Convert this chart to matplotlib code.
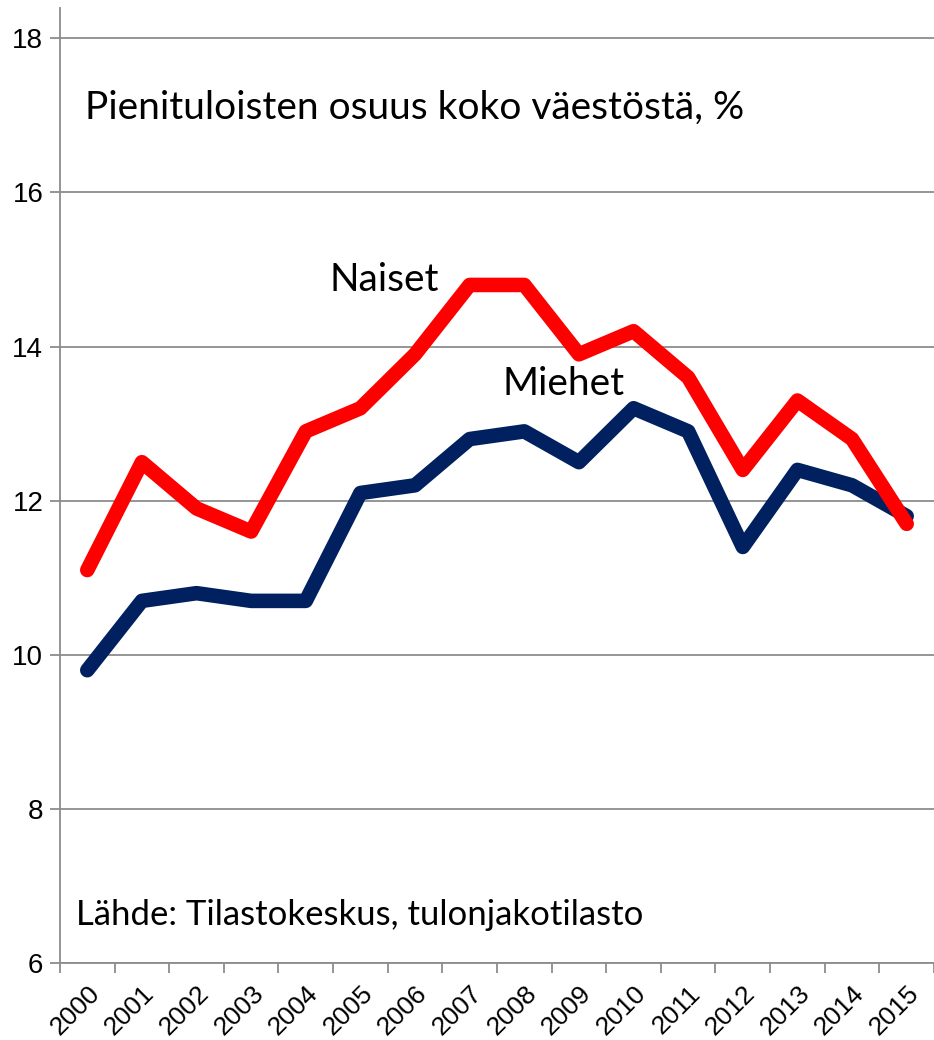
import numpy as np
import matplotlib.pyplot as plt
from matplotlib.ticker import FixedLocator

years = [str(y) for y in range(2000, 2016)]
naiset = [11.1, 12.5, 11.9, 11.6, 12.9, 13.2, 13.9, 14.8, 14.8, 13.9, 14.2, 13.6, 12.4, 13.3, 12.8, 11.7]
miehet = [9.8, 10.7, 10.8, 10.7, 10.7, 12.1, 12.2, 12.8, 12.9, 12.5, 13.2, 12.9, 11.4, 12.4, 12.2, 11.8]
yticks = [6, 8, 10, 12, 14, 16, 18]

label_font = ['Lato', 'DejaVu Sans']
tick_font = ['Liberation Sans', 'DejaVu Sans']

fig = plt.figure(figsize=(9.34, 10.4), dpi=100)
ax = fig.add_axes([0.0642, 0.074, 0.9358, 0.918])

x = np.arange(len(years))
ax.plot(x, miehet, color='#002060', lw=10.5, solid_capstyle='round', solid_joinstyle='round', zorder=3)
ax.plot(x, naiset, color='#ff0000', lw=10.5, solid_capstyle='round', solid_joinstyle='round', zorder=4)

ax.set_xlim(-0.5, len(years) - 0.5)
ax.set_ylim(6, 18.39)
ax.set_yticks(yticks)
ax.set_yticklabels([str(v) for v in yticks], fontsize=20, family=tick_font)
ax.yaxis.grid(True, color='#8c8c8c', lw=1.3)
ax.set_axisbelow(True)

# category labels centred, tick marks between categories
ax.xaxis.set_major_locator(FixedLocator(x))
ax.set_xticklabels(years, rotation=45, ha='right', rotation_mode='anchor', fontsize=19, family=tick_font)
ax.xaxis.set_minor_locator(FixedLocator(np.arange(-0.5, len(years), 1.0)))
ax.tick_params(axis='x', which='major', length=0, pad=13)
ax.tick_params(axis='x', which='minor', length=7, color='#8c8c8c', width=1.3, direction='out')
ax.tick_params(axis='y', length=7, color='#8c8c8c', width=1.3, direction='out', pad=5)

for s in ['top', 'right']:
    ax.spines[s].set_visible(False)
for s in ['left', 'bottom']:
    ax.spines[s].set_color('#8c8c8c')
    ax.spines[s].set_linewidth(1.3)

ax.text(-0.05, 17.1, 'Pienituloisten osuus koko väestöstä, %', fontsize=28, family=label_font, va='center')
ax.text(4.43, 14.86, 'Naiset', fontsize=28, family=label_font, va='center')
ax.text(7.6, 13.52, 'Miehet', fontsize=28, family=label_font, va='center')
ax.text(-0.2, 6.62, 'Lähde: Tilastokeskus, tulonjakotilasto', fontsize=25, family=label_font, va='center')

fig.savefig('out.png', dpi=100)
